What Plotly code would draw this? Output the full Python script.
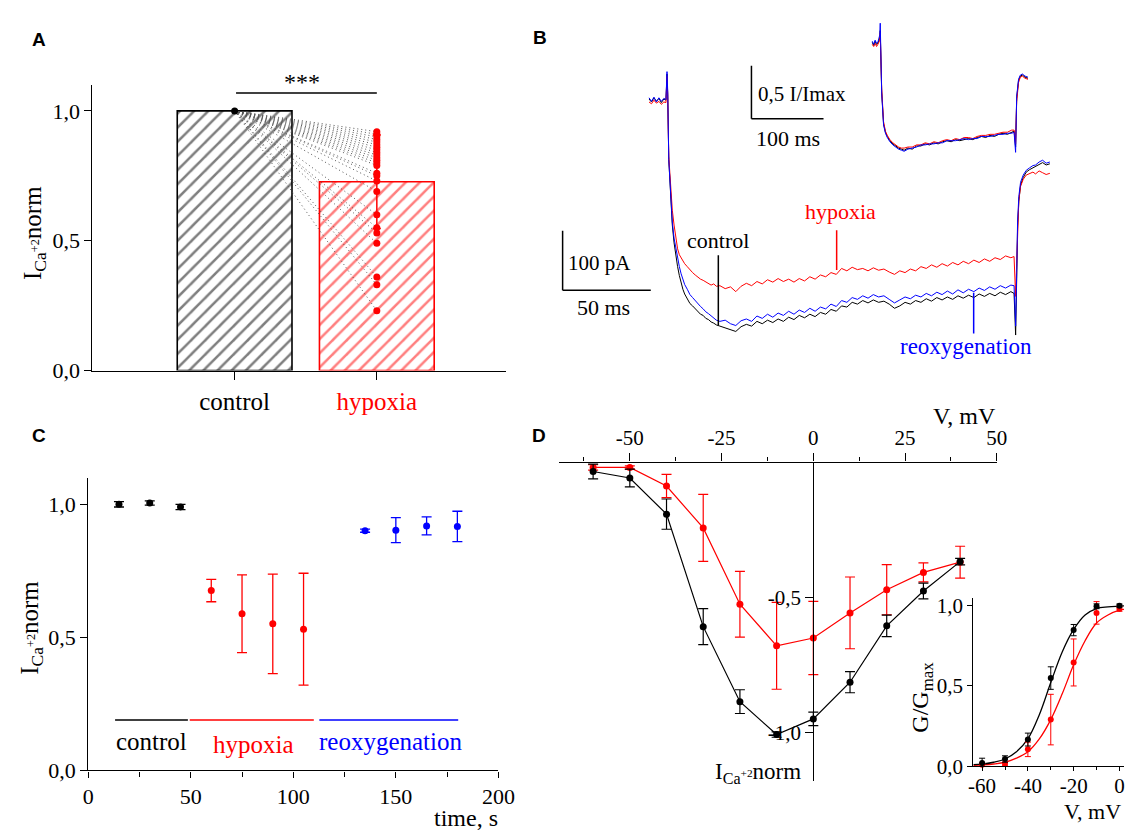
import plotly.graph_objects as go

W, H = 1133, 832
SERIF = "Liberation Serif, Times New Roman, DejaVu Serif, serif"
SANS = "Liberation Sans, Arial, DejaVu Sans, sans-serif"
RED = "#ff0000"
BLUE = "#0000ff"
BLACK = "#000000"

# ---------------- Panel A data ----------------
A_CATEGORIES = ["control", "hypoxia"]
A_POS = [1, 2]
A_MEANS = [1.0, 0.727]
A_HYPOXIA_SD = 0.18
A_CONTROL_CELL = 1.0
A_HYPOXIA_CELLS = [0.92, 0.91, 0.90, 0.89, 0.88, 0.87, 0.86, 0.85, 0.84, 0.83, 0.82,
                   0.81, 0.80, 0.79, 0.76, 0.75, 0.73, 0.69, 0.60, 0.55, 0.53, 0.49,
                   0.36, 0.33, 0.23]
A_SIG_Y = 1.069

# ---------------- Panel B data (sampled traces) ----------------
B_T_PRE = [-10.2, -8.8, -7.4, -6.0, -4.6, -3.2, -1.8, -0.6]
B_T_SPIKE = [0.0, 0.4]
B_T_DECAY = [1, 2, 3, 4, 5, 6, 7, 8, 9, 10, 11.5, 13, 14.5, 16, 17.5, 19, 20.5, 22, 23.5, 25, 26.5, 28]
B_T_PLATEAU = list(range(30, 196, 3))
B_T_TAIL = [196.8, 197.7, 198.3, 198.8, 199.5, 200.5, 202, 203.7, 205.5, 207.5, 209, 211, 213, 215, 217.1]
B_TIME = B_T_PRE + B_T_SPIKE + B_T_DECAY + B_T_PLATEAU + B_T_TAIL

B_CONTROL = ([2, -3, 4, -2, 3, -4, 2, 0] + [44, 10] +
             [-100, -165, -210, -240, -262, -280, -295, -308, -318, -326, -334, -342, -346, -351,
              -356, -360, -362, -367, -369, -373, -375, -378] +
             [-380, -383, -386, -389, -381, -377, -380, -372, -376, -370,
              -374, -368, -372, -365, -369, -362, -366, -360, -364, -357,
              -360, -352, -355, -346, -348, -340, -343, -337, -341, -336,
              -340, -338, -343, -350, -346, -340, -343, -337, -340, -334,
              -338, -332, -336, -331, -335, -329, -333, -328, -332, -326,
              -330, -325, -329, -323, -327, -322] +
             [-325, -395, -300, -215, -170, -143, -130, -121, -117, -114, -112, -108, -105, -109, -107])
B_REOX = ([4, -2, 5, -3, 4, -2, 3, 1] + [48, 15] +
          [-100, -163, -205, -232, -250, -266, -280, -292, -302, -310, -318, -327, -332, -337,
           -343, -347, -351, -356, -359, -363, -366, -370] +
          [-372, -370, -376, -379, -371, -368, -372, -363, -367, -360,
           -365, -358, -362, -355, -360, -353, -357, -350, -355, -348,
           -351, -343, -347, -337, -340, -332, -335, -329, -333, -327,
           -331, -329, -335, -341, -336, -331, -334, -328, -331, -325,
           -329, -323, -327, -321, -326, -319, -324, -318, -322, -316,
           -320, -314, -318, -312, -316, -311] +
          [-312, -380, -290, -205, -162, -138, -126, -118, -114, -110, -109, -104, -101, -106, -104])
B_HYPOXIA = ([-3, -6, 0, -5, -2, -7, -3, -4] + [40, 8] +
             [-95, -150, -185, -210, -235, -250, -260, -265, -270, -275, -280, -286, -290, -294,
              -298, -301, -303, -306, -308, -311, -309, -313] +
             [-312, -317, -314, -322, -313, -308, -312, -305, -309, -302,
              -306, -300, -305, -301, -306, -300, -304, -297, -301, -294,
              -297, -290, -293, -283, -287, -281, -285, -283, -287, -282,
              -286, -284, -289, -293, -287, -290, -284, -287, -280, -283,
              -277, -281, -275, -279, -273, -277, -271, -275, -269, -273,
              -267, -271, -265, -268, -262, -265] +
             [-263, -330, -275, -210, -168, -145, -133, -126, -123, -121, -124, -119, -122, -125, -123])

# inset: normalised traces
BI_TIME = ([-10.5, -8.5, -6.5, -4.5, -2.7, 0.0, 0.6] +
           [2.6, 5.2, 7.8, 10.4, 14, 18.1, 22, 26, 30, 33.8] +
           list(range(39, 184, 6)) +
           [186.3, 188.4, 189.9, 192.5, 195, 197.8, 201.5, 205.6])
BI_CONTROL = [0.01, -0.02, 0.02, -0.01, 0.0, 0.05, 0.12,
              -0.46, -0.76, -0.84, -0.88, -0.92, -0.95, -0.97, -0.99, -1.0, -1.01,
              -0.99, -1.0, -0.97, -0.97, -0.95, -0.96, -0.94, -0.95, -0.93, -0.92,
              -0.93, -0.91, -0.92, -0.91, -0.90, -0.91, -0.89, -0.88, -0.89, -0.87,
              -0.88, -0.86, -0.85, -0.86, -0.84,
              -0.83, -0.98, -0.52, -0.35, -0.31, -0.30, -0.32, -0.33]
BI_HYPOXIA = [-0.01, -0.03, 0.0, -0.03, -0.01, 0.03, 0.10,
              -0.43, -0.74, -0.83, -0.87, -0.91, -0.94, -0.96, -0.98, -0.99, -0.99,
              -0.98, -0.98, -0.96, -0.96, -0.94, -0.95, -0.93, -0.94, -0.92, -0.91,
              -0.92, -0.90, -0.91, -0.89, -0.89, -0.90, -0.88, -0.87, -0.87, -0.86,
              -0.86, -0.85, -0.84, -0.84, -0.82,
              -0.82, -0.95, -0.55, -0.37, -0.32, -0.31, -0.33, -0.34]
BI_REOX = [0.02, -0.01, 0.03, 0.0, 0.01, 0.08, 0.19,
           -0.47, -0.77, -0.85, -0.89, -0.93, -0.96, -0.98, -1.0, -1.01, -1.02,
           -1.0, -0.99, -0.98, -0.96, -0.96, -0.95, -0.95, -0.94, -0.94, -0.92,
           -0.92, -0.92, -0.91, -0.90, -0.91, -0.90, -0.90, -0.88, -0.88, -0.88,
           -0.87, -0.86, -0.86, -0.85, -0.85,
           -0.84, -1.03, -0.50, -0.34, -0.30, -0.29, -0.31, -0.32]

# ---------------- Panel C data ----------------
C_T_CONTROL = [15, 30, 45]
C_CONTROL = [1.0, 1.005, 0.99]
C_CONTROL_ERR = [0.01, 0.008, 0.01]
C_T_HYPOXIA = [60, 75, 90, 105]
C_HYPOXIA = [0.676, 0.589, 0.551, 0.531]
C_HYPOXIA_ERR = [0.042, 0.146, 0.187, 0.21]
C_T_REOX = [135, 150, 165, 180]
C_REOX = [0.901, 0.903, 0.919, 0.917]
C_REOX_ERR = [0.006, 0.047, 0.034, 0.057]
C_PHASE_NAMES = ["control", "hypoxia", "reoxygenation"]
C_PHASE_START = [13.1, 49.5, 112.7]
C_PHASE_END = [48.6, 110.0, 180.4]

# ---------------- Panel D data ----------------
D_V = [-60, -50, -40, -30, -20, -10, 0, 10, 20, 30, 40]
D_CONTROL = [-0.033, -0.057, -0.191, -0.608, -0.886, -1.008, -0.950, -0.814, -0.605, -0.476, -0.367]
D_CONTROL_ERR = [0.027, 0.033, 0.056, 0.067, 0.044, 0.01, 0.025, 0.039, 0.04, 0.029, 0.012]
D_HYPOXIA = [-0.018, -0.018, -0.087, -0.242, -0.525, -0.679, -0.650, -0.557, -0.471, -0.407, -0.369]
D_HYPOXIA_ERR = [0.01, 0.006, 0.043, 0.124, 0.122, 0.161, 0.136, 0.133, 0.093, 0.035, 0.059]

G_V = [-60, -50, -40, -30, -20, -10, 0]
G_CONTROL = [0.02, 0.045, 0.166, 0.548, 0.846, 0.994, 0.998]
G_CONTROL_ERR = [0.03, 0.02, 0.04, 0.07, 0.035, 0.015, 0.01]
G_HYPOXIA = [0.01, 0.016, 0.105, 0.29, 0.645, 0.953, 0.978]
G_HYPOXIA_ERR = [0.01, 0.01, 0.045, 0.157, 0.146, 0.07, 0.015]
FIT_V = [-63.8, -60, -55, -50, -45, -40, -35, -30, -25, -20, -15, -10, -5, 0, 2]
FIT_CONTROL = [0.01, 0.013, 0.025, 0.045, 0.09, 0.17, 0.32, 0.52, 0.71, 0.85, 0.94, 0.98, 0.99, 0.995, 0.997]
FIT_HYPOXIA = [0.005, 0.008, 0.014, 0.025, 0.05, 0.09, 0.17, 0.29, 0.45, 0.63, 0.78, 0.89, 0.94, 0.97, 0.975]

ICA = "I<sub>Ca<sup>+2</sup></sub>norm"


def xd(p0, p1):
    return [p0 / W, p1 / W]


def yd(top, bottom):
    return [1 - bottom / H, 1 - top / H]


fig = go.Figure()

# ---------- A ----------
bar_colors = [BLACK, RED]
for pos, mean, col in zip(A_POS, A_MEANS, bar_colors):
    fig.add_trace(go.Bar(
        x=[pos], y=[mean], width=0.807, xaxis="x", yaxis="y",
        marker=dict(color="white", line=dict(color=col, width=1.6),
                    pattern=dict(shape="/", fgcolor=col, bgcolor="white", size=10, solidity=0.25)),
        showlegend=False, hoverinfo="skip"))

lx, ly = [], []
for v in A_HYPOXIA_CELLS:
    lx += [A_POS[0], A_POS[1], None]
    ly += [A_CONTROL_CELL, v, None]
fig.add_trace(go.Scatter(x=lx, y=ly, mode="lines", xaxis="x", yaxis="y",
                         line=dict(color="#555555", width=1, dash="1px,3px"), showlegend=False))
fig.add_trace(go.Scatter(x=[A_POS[1]], y=[A_MEANS[1]], mode="markers", xaxis="x", yaxis="y",
                         marker=dict(size=1, color=RED),
                         error_y=dict(type="data", array=[A_HYPOXIA_SD], color=RED, thickness=1.5, width=4),
                         showlegend=False))
fig.add_trace(go.Scatter(x=[A_POS[1]] * len(A_HYPOXIA_CELLS), y=A_HYPOXIA_CELLS, mode="markers",
                         xaxis="x", yaxis="y", marker=dict(size=7, color=RED), showlegend=False))
fig.add_trace(go.Scatter(x=[A_POS[0]], y=[A_CONTROL_CELL], mode="markers", xaxis="x", yaxis="y",
                         marker=dict(size=7, color=BLACK), showlegend=False))

# ---------- B ----------
for ys, col in [(B_CONTROL, BLACK), (B_HYPOXIA, RED), (B_REOX, BLUE)]:
    fig.add_trace(go.Scatter(x=B_TIME, y=ys, mode="lines", xaxis="x2", yaxis="y2",
                             line=dict(color=col, width=1), showlegend=False))
for ys, col in [(BI_CONTROL, BLACK), (BI_HYPOXIA, RED), (BI_REOX, BLUE)]:
    fig.add_trace(go.Scatter(x=BI_TIME, y=ys, mode="lines", xaxis="x3", yaxis="y3",
                             line=dict(color=col, width=1), showlegend=False))

# ---------- C ----------
for xs, ys, es, col in [(C_T_CONTROL, C_CONTROL, C_CONTROL_ERR, BLACK),
                        (C_T_HYPOXIA, C_HYPOXIA, C_HYPOXIA_ERR, RED),
                        (C_T_REOX, C_REOX, C_REOX_ERR, BLUE)]:
    fig.add_trace(go.Scatter(x=xs, y=ys, mode="markers", xaxis="x4", yaxis="y4",
                             marker=dict(size=7, color=col),
                             error_y=dict(type="data", array=es, color=col, thickness=1.3, width=5),
                             showlegend=False))

# ---------- D ----------
for ys, es, col in [(D_HYPOXIA, D_HYPOXIA_ERR, RED), (D_CONTROL, D_CONTROL_ERR, BLACK)]:
    fig.add_trace(go.Scatter(x=D_V, y=ys, mode="lines+markers", xaxis="x5", yaxis="y5",
                             line=dict(color=col, width=1.2), marker=dict(size=7, color=col),
                             error_y=dict(type="data", array=es, color=col, thickness=1.2, width=5),
                             cliponaxis=False, showlegend=False))
for fy, col in [(FIT_HYPOXIA, RED), (FIT_CONTROL, BLACK)]:
    fig.add_trace(go.Scatter(x=FIT_V, y=fy, mode="lines", line_shape="spline", xaxis="x6", yaxis="y6",
                             line=dict(color=col, width=1.3), showlegend=False))
for ys, es, col in [(G_HYPOXIA, G_HYPOXIA_ERR, RED), (G_CONTROL, G_CONTROL_ERR, BLACK)]:
    fig.add_trace(go.Scatter(x=G_V, y=ys, mode="markers", xaxis="x6", yaxis="y6",
                             marker=dict(size=6, color=col),
                             error_y=dict(type="data", array=es, color=col, thickness=1, width=3),
                             cliponaxis=False, showlegend=False))

# ---------- axes ----------
AX = dict(showgrid=False, zeroline=False, showline=True, linecolor=BLACK, linewidth=1.3,
          tickcolor=BLACK, tickwidth=1.3, fixedrange=True)
HID = dict(visible=False, showgrid=False, zeroline=False, fixedrange=True)


def tf(size):
    return dict(family=SERIF, size=size, color=BLACK)


fig.update_layout(
    width=W, height=H, margin=dict(l=0, r=0, t=0, b=0),
    font=dict(family=SERIF, color=BLACK),
    paper_bgcolor="white", plot_bgcolor="rgba(0,0,0,0)",
    barmode="overlay", showlegend=False,
    xaxis=dict(AX, domain=xd(81, 502.7), range=[0, 2.908], anchor="y", ticks="outside", ticklen=8,
               tickvals=A_POS,
               ticktext=[A_CATEGORIES[0], "<span style='color:#ff0000'>" + A_CATEGORIES[1] + "</span>"],
               tickfont=tf(25)),
    yaxis=dict(AX, domain=yd(75, 366), range=[0, 1.098], anchor="x", ticks="outside", ticklen=7,
               tickvals=[0, 0.5, 1.0], ticktext=["0,0", "0,5", "1,0"], tickfont=tf(22)),
    xaxis2=dict(HID, domain=xd(540, 1100), range=[-70.6, 240.8], anchor="y2"),
    yaxis2=dict(HID, domain=yd(40, 400), range=[-510.7, 82.4], anchor="x2"),
    xaxis3=dict(HID, domain=xd(700, 1100), range=[-250.3, 293.9], anchor="y3"),
    yaxis3=dict(HID, domain=yd(0, 160), range=[-1.185, 0.296], anchor="x3"),
    xaxis4=dict(AX, domain=xd(76.7, 495), range=[0, 200], anchor="y4", ticks="outside", ticklen=6,
                tickvals=[0, 50, 100, 150, 200], ticktext=["0", "50", "100", "150", "200"], tickfont=tf(22),
                minor=dict(tickvals=[25, 75, 125, 175], ticks="outside", ticklen=5, tickcolor=BLACK, tickwidth=1.3)),
    yaxis4=dict(AX, domain=yd(475.7, 774.3), range=[0, 1.099], anchor="x4", ticks="outside", ticklen=7,
                tickvals=[0, 0.5, 1.0], ticktext=["0,0", "0,5", "1,0"], tickfont=tf(22)),
    xaxis5=dict(AX, domain=xd(556.8, 1003.3), range=[-69.3, 50], anchor="y5", side="top",
                ticks="outside", ticklen=8,
                tickvals=[-50, -25, 0, 25, 50], ticktext=["-50", "-25", "0", "25", "50"], tickfont=tf(21),
                minor=dict(tickvals=[-62.5, -37.5, -12.5, 12.5, 37.5], ticks="outside", ticklen=4,
                           tickcolor=BLACK, tickwidth=1.3)),
    yaxis5=dict(AX, domain=yd(460, 785), range=[-1.18, 0], anchor="free", position=816.2 / W,
                ticks="outside", ticklen=8, tickvals=[-0.5, -1.0], ticktext=["-0,5", "-1,0"], tickfont=tf(21)),
    xaxis6=dict(AX, domain=xd(979.3, 1133), range=[-63.86, 2.0], anchor="y6", ticks="outside", ticklen=4,
                ticklabelstandoff=-4,
                tickvals=[-60, -40, -20, 0], ticktext=["-60", "-40", "-20", "0"], tickfont=tf(21),
                minor=dict(tickvals=[-50, -30, -10], ticks="outside", ticklen=3, tickcolor=BLACK, tickwidth=1.2)),
    yaxis6=dict(AX, domain=yd(598.3, 770), range=[0, 1.045], anchor="x6", ticks="outside", ticklen=5,
                tickvals=[0, 0.5, 1.0], ticktext=["0,0", "0,5", "1,0"], tickfont=tf(21)),
)

shapes = []
# A significance bar
shapes.append(dict(type="line", xref="x", yref="y", x0=A_POS[0] + 0.01, x1=A_POS[1], y0=A_SIG_Y, y1=A_SIG_Y,
                   line=dict(color=BLACK, width=1.5)))
# B pointer lines
for (t, i0, i1, col) in [(29.1, -260.8, -379.0, BLACK), (96.2, -218.6, -285.5, RED), (173.9, -324.0, -392.6, BLUE)]:
    shapes.append(dict(type="line", xref="x2", yref="y2", x0=t, x1=t, y0=i0, y1=i1, line=dict(color=col, width=1.5)))
# B scale bars
shapes.append(dict(type="line", xref="x2", yref="y2", x0=-59.2, x1=-59.2, y0=-219.6, y1=-319.6, line=dict(color=BLACK, width=1.5)))
shapes.append(dict(type="line", xref="x2", yref="y2", x0=-59.2, x1=-9.2, y0=-319.6, y1=-319.6, line=dict(color=BLACK, width=1.5)))
shapes.append(dict(type="line", xref="x3", yref="y3", x0=-178.1, x1=-178.1, y0=-0.213, y1=-0.713, line=dict(color=BLACK, width=1.5)))
shapes.append(dict(type="line", xref="x3", yref="y3", x0=-178.1, x1=-78.1, y0=-0.713, y1=-0.713, line=dict(color=BLACK, width=1.5)))
# C phase bars
for s, e, col in zip(C_PHASE_START, C_PHASE_END, [BLACK, RED, BLUE]):
    shapes.append(dict(type="line", xref="x4", yref="y4", x0=s, x1=e, y0=0.19, y1=0.19, line=dict(color=col, width=1.5)))
fig.update_layout(shapes=shapes)

ann = []


def pa(text, px, py, size, color=BLACK, xanchor="center", yanchor="middle", angle=0, family=SERIF):
    ann.append(dict(text=text, x=px / W, y=1 - py / H, xref="paper", yref="paper", showarrow=False,
                    xanchor=xanchor, yanchor=yanchor, textangle=angle,
                    font=dict(family=family, size=size, color=color)))


def da(text, x, y, xr, yr, size, color=BLACK, xanchor="center"):
    ann.append(dict(text=text, x=x, y=y, xref=xr, yref=yr, showarrow=False, xanchor=xanchor, yanchor="middle",
                    font=dict(family=SERIF, size=size, color=color)))


# panel letters
pa("<b>A</b>", 17, 15, 19, family=SANS, xanchor="left", yanchor="top")
pa("<b>B</b>", 528, 13, 19, family=SANS, xanchor="left", yanchor="top")
pa("<b>C</b>", 17, 420, 19, family=SANS, xanchor="left", yanchor="top")
pa("<b>D</b>", 527, 420, 19, family=SANS, xanchor="left", yanchor="top")

# A
pa("***", 295, 71, 24, color=BLACK)
pa(ICA, 22, 226, 25, angle=-90)
# B
da("control", 29.1, -236, "x2", "y2", 22)
da("hypoxia", 98.3, -188, "x2", "y2", 22, color=RED)
da("reoxygenation", 169.6, -415, "x2", "y2", 23, color=BLUE)
da("100 pA", -57.5, -274.6, "x2", "y2", 21, xanchor="left")
da("50 ms", -35.8, -348.7, "x2", "y2", 22)
da("0,5 I/Imax", -171.8, -0.475, "x3", "y3", 21, xanchor="left")
da("100 ms", -127.6, -0.9, "x3", "y3", 22)
# C
pa(ICA, 18, 629, 25, angle=-90)
pa("time, s", 497, 823, 24, xanchor="right")
for name, xc, yc, col in zip(C_PHASE_NAMES, [30.7, 80.5, 147.4], [0.108, 0.096, 0.108], [BLACK, RED, BLUE]):
    da(name, xc, yc, "x4", "y4", 25, color=col)
# D
pa("V, mV", 1004, 412, 24, xanchor="right")
pa(ICA, 806, 777, 23, xanchor="right")
pa("G/G<sub>max</sub>", 927, 700, 24, angle=-90)
pa("V, mV", 1132, 816, 22, xanchor="right")

fig.update_layout(annotations=ann)
fig.write_html("out.html")
